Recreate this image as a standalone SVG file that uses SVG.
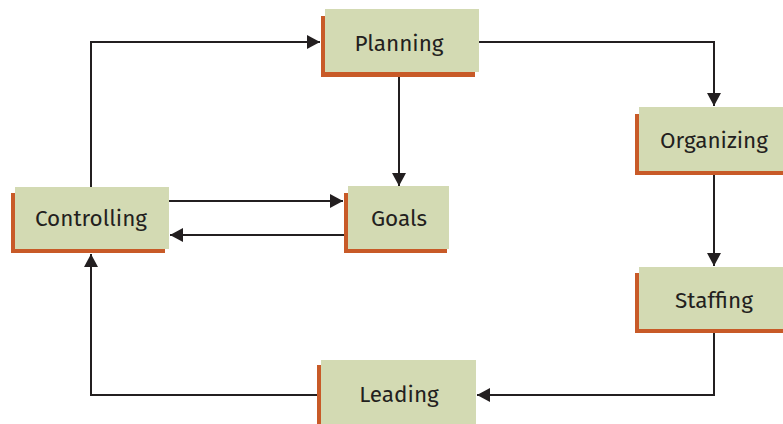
<svg xmlns="http://www.w3.org/2000/svg" width="783" height="424" viewBox="0 0 783 424">
<style>
.sh{fill:#c85a28}
.bx{fill:#d3dab3}
.t{font-family:"Fira Sans","Noto Sans","Open Sans",sans-serif;font-size:22.5px;fill:#231f20;text-anchor:middle}
.c{fill:none;stroke:#231f20;stroke-width:2}
</style>
<defs>
<marker id="ah" markerUnits="userSpaceOnUse" markerWidth="14" markerHeight="14" viewBox="0 0 14 14" refX="13" refY="7" orient="auto">
<path d="M0,0 L13,7 L0,14 Z" fill="#231f20"/>
</marker>
</defs>
<rect width="783" height="424" fill="#fff"/>
<g id="connectors">
<path class="c" d="M478,42 H714 V106" marker-end="url(#ah)"/>
<path class="c" d="M399,76 V186" marker-end="url(#ah)"/>
<path class="c" d="M91,187 V42 H320" marker-end="url(#ah)"/>
<path class="c" d="M169,201 H343" marker-end="url(#ah)"/>
<path class="c" d="M344,235 H170" marker-end="url(#ah)"/>
<path class="c" d="M714,175 V266" marker-end="url(#ah)"/>
<path class="c" d="M714,333 V395 H477" marker-end="url(#ah)"/>
<path class="c" d="M317,395 H91 V254" marker-end="url(#ah)"/>
</g>
<g id="planning">
<rect class="sh" x="321" y="16" width="154" height="61"/>
<rect class="bx" x="325" y="9" width="154" height="63"/>
<text class="t" x="399" y="51">Planning</text>
</g>
<g id="organizing">
<rect class="sh" x="635" y="114" width="160" height="61"/>
<rect class="bx" x="639" y="107" width="160" height="64"/>
<text class="t" x="714" y="148">Organizing</text>
</g>
<g id="controlling">
<rect class="sh" x="11" y="193" width="154" height="60"/>
<rect class="bx" x="15" y="187" width="154" height="62"/>
<text class="t" x="91" y="226">Controlling</text>
</g>
<g id="goals">
<rect class="sh" x="344" y="193" width="103" height="60"/>
<rect class="bx" x="348" y="186" width="101" height="63"/>
<text class="t" x="399" y="226">Goals</text>
</g>
<g id="staffing">
<rect class="sh" x="635" y="273" width="160" height="60"/>
<rect class="bx" x="639" y="267" width="160" height="62"/>
<text class="t" x="714" y="308">Staffing</text>
</g>
<g id="leading">
<rect class="sh" x="317" y="365" width="155" height="64"/>
<rect class="bx" x="321" y="360" width="155" height="64"/>
<text class="t" x="399" y="402">Leading</text>
</g>
</svg>
